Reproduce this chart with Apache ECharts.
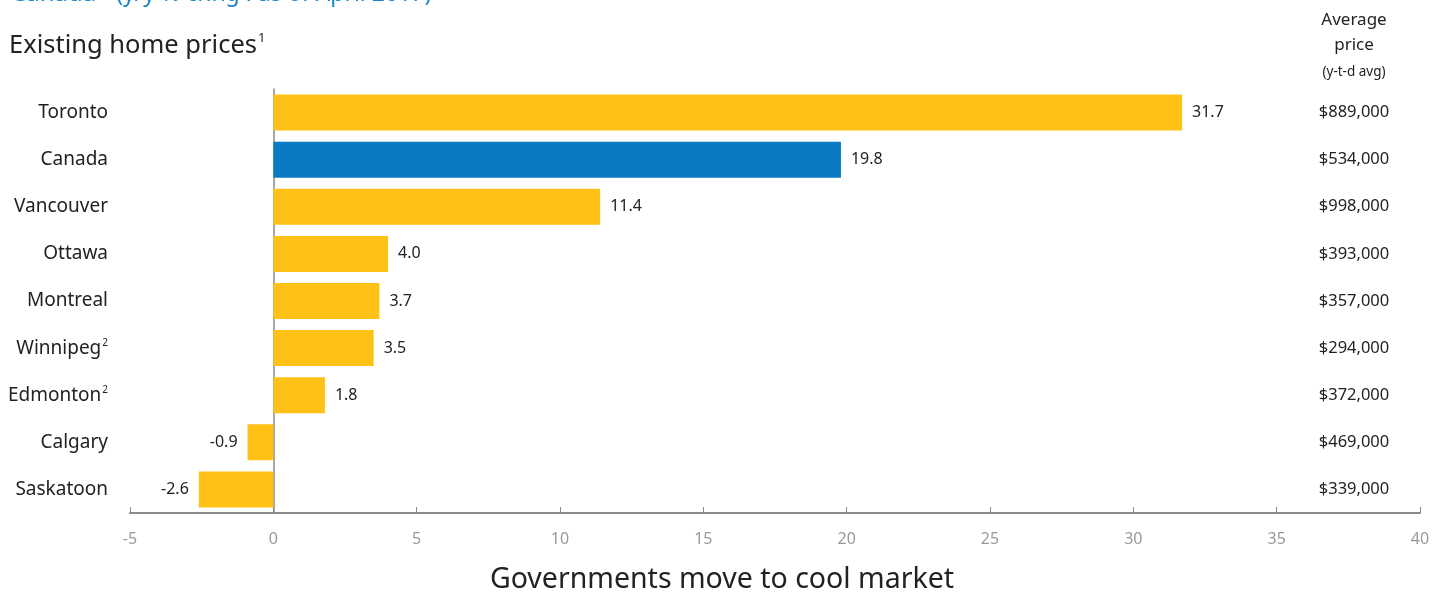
<!DOCTYPE html>
<html>
<head>
<meta charset="utf-8">
<script src="https://cdn.jsdelivr.net/npm/echarts@6/dist/echarts.min.js"></script>
<style>
  html, body { margin: 0; padding: 0; background: #fff; }
  #chart { width: 1437px; height: 596px; }
</style>
</head>
<body>
<div id="chart"></div>
<script>
// y/y % change, existing home prices (as of April 2017)
var cities = ["Toronto", "Canada", "Vancouver", "Ottawa", "Montreal", "Winnipeg", "Edmonton", "Calgary", "Saskatoon"];
var changes = [31.7, 19.8, 11.4, 4.0, 3.7, 3.5, 1.8, -0.9, -2.6];
var avgPrices = ["$889,000", "$534,000", "$998,000", "$393,000", "$357,000", "$294,000", "$372,000", "$469,000", "$339,000"];
var footnoted = ["Winnipeg", "Edmonton"];
var xTicks = [-5, 0, 5, 10, 15, 20, 25, 30, 35, 40];

var FONT = "Noto Sans";
var YELLOW = "#FFC116", BLUE = "#0A7BC2";

var barData = changes.map(function (v, i) {
    return {
        value: v,
        itemStyle: { color: cities[i] == "Canada" ? BLUE : YELLOW },
        label: { position: v < 0 ? "left" : "right" }
    };
});

var chart = echarts.init(document.getElementById("chart"));
chart.setOption({
    animation: false,
    textStyle: { fontFamily: FONT },
    grid: { left: 130, right: 17, top: 89, bottom: 83, containLabel: false, outerBoundsMode: "none" },
    xAxis: {
        type: "value",
        min: xTicks[0], max: xTicks[xTicks.length - 1], interval: 5,
        axisLine: { show: true, onZero: false, lineStyle: { color: "#8a8a8a", width: 2 } },
        axisTick: { show: true, inside: true, length: 6, lineStyle: { color: "#8a8a8a", width: 1 } },
        axisLabel: { color: "#9a9a9a", fontSize: 16, margin: 18, fontFamily: FONT },
        splitLine: { show: false }
    },
    yAxis: [{
        type: "category", data: cities, inverse: true,
        axisLine: { show: true, onZero: true, lineStyle: { color: "#8a8a8a", width: 1.5 } },
        axisTick: { show: false },
        axisLabel: {
            margin: 22, color: "#222", fontSize: 19, fontFamily: FONT,
            formatter: function (v) { return footnoted.indexOf(v) >= 0 ? v + "{sup|2}" : v; },
            rich: { sup: { fontSize: 10, verticalAlign: "top", padding: [0, 0, 10, 1], color: "#222", fontFamily: FONT } }
        }
    }, {
        type: "category", data: cities, inverse: true, position: "right",
        axisLine: { show: false }, axisTick: { show: false },
        axisLabel: {
            inside: true, margin: 66, align: "center", color: "#222", fontSize: 16.5, fontFamily: FONT,
            formatter: function (v, i) { return avgPrices[i]; }
        }
    }],
    series: [{
        type: "bar", data: barData, barWidth: 36,
        label: {
            show: true, distance: 10, color: "#222", fontSize: 16, fontFamily: FONT,
            formatter: function (p) { return p.value.toFixed(1); }
        }
    }],
    graphic: [
        { type: "text", left: 11, top: -18, style: { text: "{big|Canada}{sm|(y/y % chng : as of April 2017)}", rich: {
            big: { fontSize: 24, fill: "#1a86c8", fontFamily: FONT },
            sm: { fontSize: 23, fill: "#1a86c8", fontFamily: FONT, padding: [0, 0, 0, 20] } } } },
        { type: "text", left: 9, top: 32, style: { text: "Existing home prices{s|1}", fontSize: 25.5, fill: "#222", fontFamily: FONT,
            rich: { s: { fontSize: 13, verticalAlign: "top", padding: [0, 0, 14, 1], fill: "#222", fontFamily: FONT } } } },
        { type: "text", x: 1354, y: 12, style: { text: "Average", fontSize: 17, fill: "#222", align: "center", fontFamily: FONT } },
        { type: "text", x: 1354, y: 37, style: { text: "price", fontSize: 17, fill: "#222", align: "center", fontFamily: FONT } },
        { type: "text", x: 1354, y: 65, style: { text: "(y-t-d avg)", fontSize: 13.5, fill: "#222", align: "center", fontFamily: FONT } },
        { type: "text", x: 722, y: 565, style: { text: "Governments move to cool market", fontSize: 28.5, fill: "#222", align: "center", fontFamily: FONT } }
    ]
});
</script>
</body>
</html>
